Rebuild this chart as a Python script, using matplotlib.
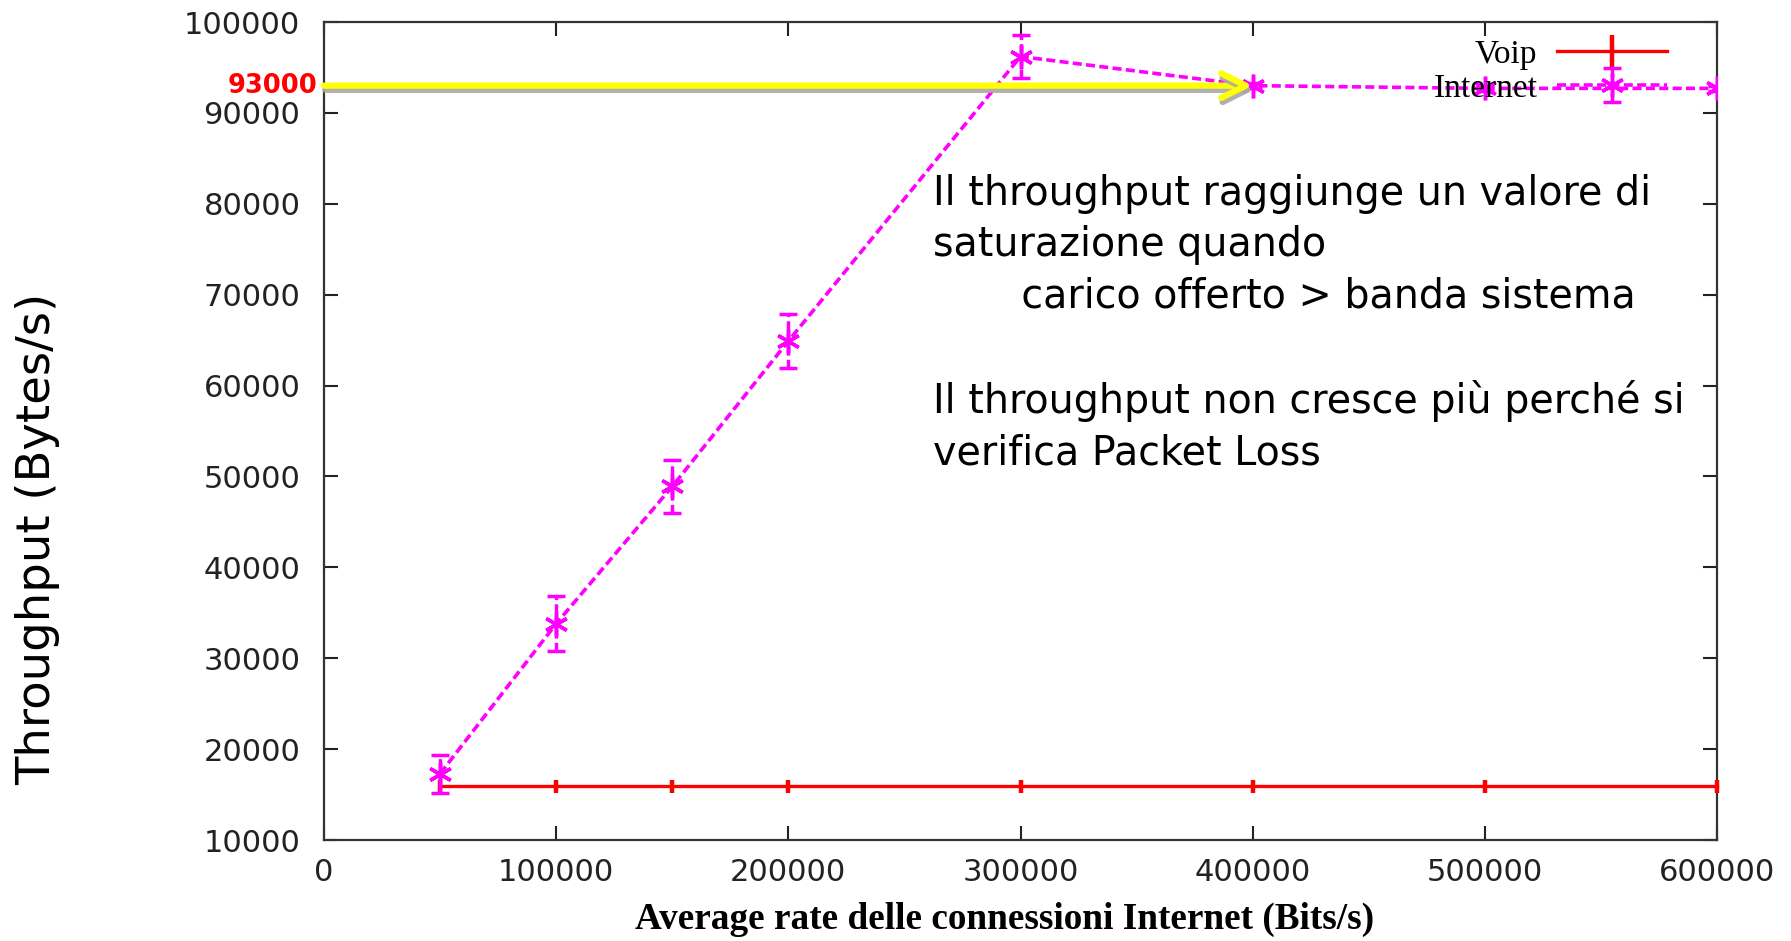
import numpy as np
import matplotlib.pyplot as plt
from matplotlib import patheffects

#Data section ---------------------------------------------
rate = [50000, 100000, 150000, 200000, 300000, 400000, 500000, 600000]
voip_thr = [15900, 15900, 15900, 15900, 15900, 15900, 15900, 15900]
voip_err = [750, 750, 750, 750, 750, 750, 750, 750]
internet_thr = [17300, 33800, 48900, 64900, 96200, 93000, 92700, 92700]
internet_err = [2100, 3000, 2900, 3000, 2400, 300, 300, 300]
saturation = 93000
arrow_end = 400000

xticks = [0, 100000, 200000, 300000, 400000, 500000, 600000]
yticks = [10000, 20000, 30000, 40000, 50000, 60000, 70000, 80000, 90000, 100000]

note = ('Il throughput raggiunge un valore di\n'
        'saturazione quando\n'
        '       carico offerto > banda sistema\n'
        '\n'
        'Il throughput non cresce più perché si\n'
        'verifica Packet Loss')

#Plot section ---------------------------------------------
fig = plt.figure(figsize=(17.91, 9.41), dpi=100)
ax1 = fig.add_axes([0.1809, 0.1073, 0.7778, 0.8693])

voip = ax1.errorbar(rate, voip_thr, yerr=voip_err, color='red', linewidth=2.4,
                    elinewidth=3.2, capsize=0, label='Voip', clip_on=False, zorder=3)
for art in voip[2]:
    art.set_clip_on(False)

inet = ax1.errorbar(rate, internet_thr, yerr=internet_err, color='#ff00ff', linewidth=2.6,
                    linestyle=(0, (2.5, 1.2)), marker=(6, 2, 0), markersize=17,
                    markeredgewidth=2.5, elinewidth=2.5, capsize=6.5, capthick=3,
                    label='Internet', zorder=4)
for art in inet[2]:
    art.set_linestyle((0, (2.5, 1.2)))

# saturation arrow with its grey shadow
ax1.annotate('', xy=(arrow_end, saturation), xytext=(0, saturation),
             arrowprops=dict(arrowstyle='->', color='yellow', lw=4.5, mutation_scale=44,
                             shrinkA=0, shrinkB=0,
                             path_effects=[patheffects.SimpleLineShadow(
                                 offset=(1, -3), shadow_color='#a8a8a8', alpha=0.9),
                                 patheffects.Normal()]),
             zorder=5)
ax1.text(-3000, saturation, str(saturation), color='red', fontsize=18.5, fontweight='bold',
         ha='right', va='center', clip_on=False)

ax1.text(262500, 83300, note, fontsize=28.5, ha='left', va='top', linespacing=1.37,
         family='DejaVu Sans')

ax1.set_xlim(0, 600000)
ax1.set_ylim(10000, 100000)
ax1.set_xticks(xticks)
ax1.set_yticks(yticks)
ax1.tick_params(direction='in', length=10, width=1.5, top=True, right=True,
                labelsize=22, labelcolor='#222222', color='#222222')
ax1.tick_params(axis='y', pad=17)
ax1.tick_params(axis='x', pad=13)
for sp in ax1.spines.values():
    sp.set_linewidth(1.6)
    sp.set_color('#333333')

leg = ax1.legend(loc='upper right', bbox_to_anchor=(0.974, 0.995), frameon=False,
                 markerfirst=False, prop={'family': 'Liberation Serif', 'size': 24},
                 handlelength=3.3, handletextpad=0.6, labelspacing=0.1, borderaxespad=0)

fig.text(0.021, 0.427, 'Throughput (Bytes/s)', rotation=90, fontsize=33.5,
         ha='center', va='center')
fig.text(0.561, 0.023, 'Average rate delle connessioni Internet (Bits/s)',
         family='Liberation Serif', fontweight='bold', fontsize=26.8, ha='center', va='center')

plt.savefig('out.png', dpi=100)
